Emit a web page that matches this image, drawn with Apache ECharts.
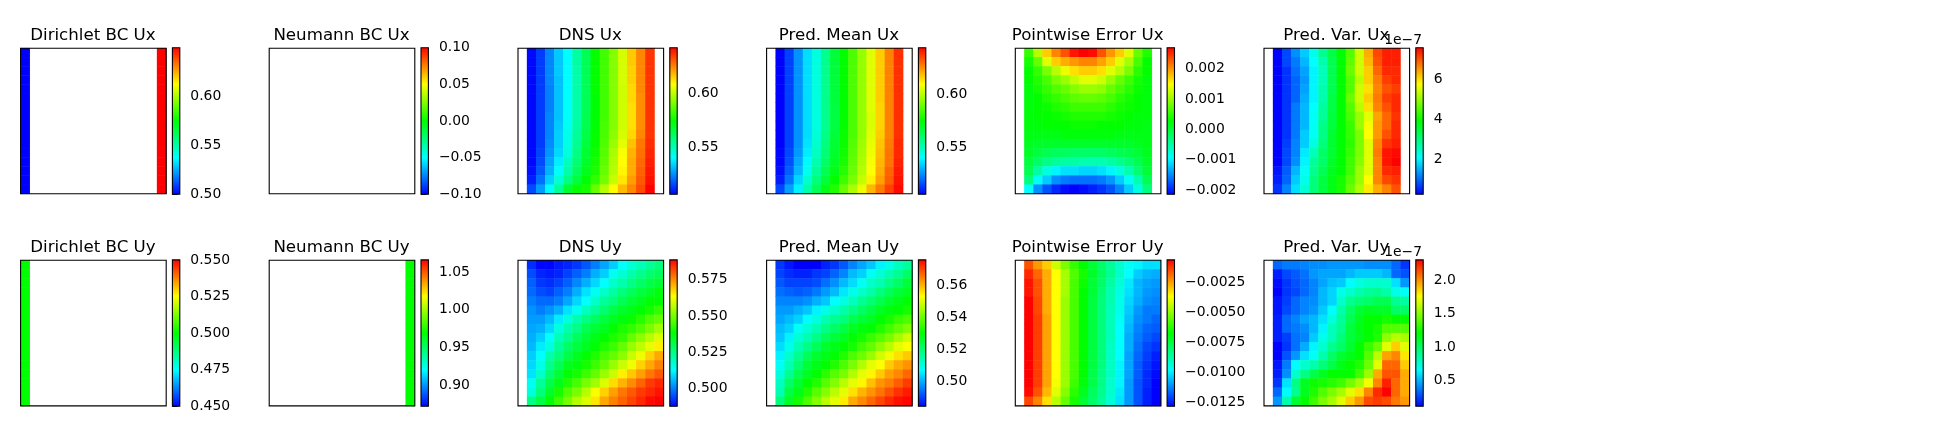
<!DOCTYPE html>
<html>
<head>
<meta charset="utf-8">
<style>html,body{margin:0;padding:0;background:#fff}#c{width:1936px;height:440px}</style>
<script src="https://cdn.jsdelivr.net/npm/echarts@6/dist/echarts.min.js"></script>
</head>
<body>
<div id="c"></div>
<script>
// ---- Boundary-condition columns (16 rows, top to bottom) ----
const dirichletUx_left  = [0.5,0.5,0.5,0.5,0.5,0.5,0.5,0.5,0.5,0.5,0.5,0.5,0.5,0.5,0.5,0.5];
const dirichletUx_right = [0.649,0.649,0.649,0.649,0.649,0.649,0.649,0.649,0.649,0.649,0.649,0.649,0.649,0.649,0.649,0.649];
const dirichletUy_left  = [0.5,0.5,0.5,0.5,0.5,0.5,0.5,0.5,0.5,0.5,0.5,0.5,0.5,0.5,0.5,0.5];
const neumannUy_right   = [0.969,0.969,0.969,0.969,0.969,0.969,0.969,0.969,0.969,0.969,0.969,0.969,0.969,0.969,0.969,0.969];

// ---- Ux fields: columns 1..14, rows top to bottom ----
const dnsUx = [
[.507,.514,.524,.533,.540,.553,.563,.575,.583,.592,.603,.616,.625,.636],
[.507,.514,.524,.533,.540,.553,.563,.575,.583,.592,.603,.616,.625,.636],
[.507,.514,.524,.533,.540,.552,.563,.575,.583,.592,.603,.615,.625,.636],
[.507,.514,.524,.532,.540,.552,.563,.575,.583,.592,.603,.615,.625,.636],
[.507,.514,.523,.532,.540,.552,.563,.575,.583,.592,.602,.614,.625,.636],
[.507,.514,.523,.532,.541,.552,.563,.574,.583,.592,.602,.614,.624,.636],
[.507,.514,.523,.532,.541,.552,.563,.574,.583,.592,.602,.613,.624,.636],
[.507,.514,.524,.532,.541,.552,.564,.574,.583,.592,.602,.613,.624,.636],
[.507,.514,.524,.533,.542,.553,.564,.574,.584,.592,.602,.613,.624,.636],
[.507,.514,.524,.534,.543,.554,.565,.575,.584,.593,.603,.614,.625,.636],
[.507,.514,.525,.534,.544,.555,.566,.575,.585,.595,.605,.617,.627,.637],
[.507,.515,.526,.535,.545,.557,.568,.576,.586,.597,.608,.619,.628,.638],
[.507,.516,.528,.538,.549,.559,.569,.577,.587,.598,.609,.620,.629,.639],
[.508,.518,.530,.541,.552,.562,.571,.578,.588,.599,.610,.620,.630,.640],
[.510,.521,.534,.546,.557,.566,.574,.581,.590,.601,.612,.622,.631,.641],
[.516,.527,.540,.554,.568,.575,.577,.588,.599,.609,.618,.625,.633,.643]];
const meanUx = [
[.506,.515,.526,.536,.545,.556,.567,.575,.585,.595,.605,.616,.626,.637],
[.506,.515,.526,.536,.545,.556,.567,.575,.585,.595,.605,.616,.626,.637],
[.506,.515,.526,.536,.545,.556,.567,.575,.585,.595,.605,.616,.626,.637],
[.506,.515,.526,.536,.545,.556,.567,.575,.585,.595,.605,.616,.626,.637],
[.506,.515,.526,.536,.545,.556,.567,.575,.585,.595,.605,.616,.626,.637],
[.506,.515,.526,.536,.545,.556,.567,.575,.585,.595,.605,.616,.626,.637],
[.506,.515,.526,.536,.545,.556,.566,.575,.585,.595,.605,.615,.626,.637],
[.506,.515,.526,.536,.545,.556,.566,.575,.585,.595,.604,.615,.626,.637],
[.506,.515,.526,.536,.545,.556,.566,.575,.585,.595,.604,.615,.626,.637],
[.506,.515,.526,.536,.546,.557,.567,.576,.585,.595,.605,.616,.626,.637],
[.506,.515,.526,.537,.547,.558,.568,.576,.586,.596,.606,.617,.627,.638],
[.507,.516,.527,.538,.549,.559,.569,.577,.587,.597,.607,.618,.628,.638],
[.507,.517,.529,.540,.551,.561,.570,.578,.588,.598,.608,.619,.628,.639],
[.508,.519,.531,.543,.554,.564,.572,.580,.589,.599,.609,.620,.630,.640],
[.510,.522,.535,.547,.558,.567,.575,.583,.591,.601,.611,.622,.631,.641],
[.516,.528,.539,.552,.563,.572,.579,.589,.598,.607,.619,.627,.635,.642]];
// Pointwise error Ux, in units of 1e-3
const errUx_1e3 = [
[.52,1.14,1.72,2.06,2.30,2.59,2.69,2.64,2.30,1.97,1.72,1.34,.76,.42],
[.37,.76,1.34,1.72,1.87,1.97,2.06,2.06,1.92,1.72,1.34,1.05,.61,.28],
[.28,.52,.85,1.14,1.39,1.63,1.72,1.72,1.63,1.34,1.14,.85,.47,.28],
[.28,.42,.61,.85,1.0,1.19,1.34,1.34,1.24,1.0,.76,.56,.37,.23],
[.23,.37,.52,.66,.76,.90,1.0,1.0,.95,.76,.61,.47,.32,.23],
[.23,.28,.42,.52,.61,.71,.76,.76,.71,.61,.47,.37,.28,.23],
[.23,.28,.32,.42,.47,.56,.56,.56,.56,.47,.37,.32,.28,.23],
[.23,.28,.28,.32,.37,.42,.42,.42,.42,.37,.32,.28,.23,.23],
[.23,.23,.28,.28,.28,.32,.32,.32,.28,.28,.28,.23,.23,.18],
[.18,.18,.18,.18,.23,.23,.23,.23,.23,.23,.18,.18,.18,.18],
[.13,.08,.08,.08,.08,.08,.08,.08,.08,.08,.08,.08,.13,.18],
[.08,-.02,-.11,-.16,-.16,-.21,-.21,-.21,-.21,-.16,-.11,-.06,.03,.13],
[-.02,-.21,-.35,-.45,-.50,-.50,-.55,-.55,-.55,-.50,-.40,-.26,-.11,.08],
[-.11,-.50,-.79,-.98,-1.08,-1.08,-1.13,-1.13,-1.08,-.98,-.79,-.55,-.26,.03],
[-.31,-.88,-1.17,-1.46,-1.56,-1.61,-1.61,-1.61,-1.56,-1.42,-1.17,-.88,-.55,-.11],
[-.93,-1.46,-1.75,-1.95,-2.09,-2.14,-2.09,-2.0,-1.9,-1.75,-1.51,-1.17,-.79,-.31]];
// Predictive variance Ux, in units of 1e-7
const varUx_1e7 = [
[.28,.80,1.31,1.75,2.26,2.92,3.43,3.94,4.53,5.41,6.36,7.09,7.38,7.38],
[.28,.80,1.16,1.60,2.11,2.70,3.36,3.94,4.60,5.41,6.29,7.02,7.38,7.38],
[.28,.65,1.09,1.45,2.04,2.63,3.36,3.94,4.68,5.41,6.14,6.87,7.31,7.31],
[.28,.65,1.01,1.38,2.04,2.63,3.36,3.94,4.53,5.26,6.14,6.72,7.16,7.31],
[.28,.65,1.01,1.45,2.04,2.70,3.36,3.94,4.53,5.41,5.99,6.65,7.02,7.16],
[.28,.65,1.01,1.53,2.04,2.70,3.43,3.94,4.68,5.41,6.14,6.72,7.16,7.31],
[.28,.65,1.16,1.60,2.11,2.85,3.43,3.94,4.53,5.26,5.99,6.65,7.02,7.31],
[.28,.65,1.16,1.60,2.19,2.85,3.50,3.94,4.46,5.04,5.55,6.43,6.87,7.24],
[.28,.65,1.16,1.60,2.19,2.99,3.50,3.94,4.31,5.04,5.70,6.50,6.87,7.31],
[.28,.65,1.16,1.75,2.19,2.99,3.58,3.94,4.31,4.82,5.77,6.50,7.02,7.31],
[.28,.72,1.23,1.75,2.33,3.06,3.58,3.94,4.24,4.82,5.55,6.65,7.24,7.38],
[.28,.80,1.23,1.97,2.63,3.21,3.58,3.94,4.31,4.82,5.55,6.72,7.46,7.53],
[.28,.80,1.31,2.04,2.85,3.21,3.65,3.94,4.38,4.89,5.55,6.65,7.46,7.60],
[.43,.94,1.60,2.19,2.92,3.36,3.72,3.94,4.38,5.04,5.55,6.65,7.31,7.38],
[.50,1.01,1.75,2.26,3.06,3.50,3.80,4.09,4.53,5.04,5.77,6.65,7.09,7.24],
[.65,1.23,1.89,2.41,3.06,3.50,3.80,4.09,4.68,5.19,5.92,6.36,6.65,7.02]];

// ---- Uy fields: columns 1..15, rows top to bottom ----
const dnsUy = [
[.492,.488,.488,.490,.491,.493,.496,.500,.504,.508,.513,.517,.520,.523,.526],
[.495,.491,.490,.491,.494,.497,.500,.505,.508,.514,.517,.521,.524,.527,.529],
[.497,.493,.492,.494,.497,.501,.505,.509,.513,.518,.521,.525,.528,.531,.533],
[.498,.495,.494,.497,.500,.505,.510,.514,.518,.522,.526,.529,.532,.534,.537],
[.500,.498,.498,.500,.504,.509,.513,.518,.523,.526,.530,.533,.535,.538,.538],
[.502,.500,.502,.505,.510,.514,.519,.523,.527,.531,.534,.536,.538,.540,.543],
[.503,.503,.506,.511,.516,.521,.525,.529,.532,.535,.537,.539,.542,.546,.548],
[.504,.505,.509,.516,.521,.525,.530,.533,.535,.538,.541,.543,.546,.550,.554],
[.505,.508,.513,.520,.524,.529,.533,.536,.538,.541,.543,.548,.552,.556,.560],
[.506,.511,.516,.523,.528,.532,.535,.538,.541,.544,.548,.553,.557,.561,.565],
[.508,.513,.521,.526,.531,.535,.538,.541,.545,.548,.552,.558,.562,.568,.572],
[.509,.515,.524,.530,.535,.537,.540,.544,.548,.553,.558,.562,.568,.572,.576],
[.510,.518,.527,.533,.538,.540,.544,.548,.553,.558,.565,.569,.573,.577,.580],
[.514,.523,.531,.536,.541,.545,.550,.554,.560,.567,.571,.575,.579,.583,.585],
[.516,.526,.534,.540,.546,.550,.556,.563,.568,.573,.577,.580,.583,.585,.587],
[.525,.531,.538,.544,.550,.556,.560,.566,.572,.576,.579,.582,.585,.588,.589]];
const meanUy = [
[.489,.486,.484,.484,.484,.487,.489,.492,.496,.499,.502,.506,.509,.513,.516],
[.490,.488,.487,.487,.489,.490,.493,.496,.501,.503,.508,.511,.514,.517,.521],
[.492,.490,.490,.490,.491,.494,.497,.501,.504,.508,.512,.514,.518,.521,.525],
[.494,.493,.492,.493,.495,.498,.501,.505,.509,.512,.515,.519,.522,.525,.527],
[.496,.496,.496,.497,.500,.502,.507,.510,.513,.517,.520,.523,.526,.528,.530],
[.498,.498,.500,.502,.506,.509,.512,.515,.518,.521,.524,.527,.529,.530,.532],
[.499,.501,.503,.507,.510,.514,.517,.519,.523,.525,.527,.530,.532,.535,.537],
[.501,.503,.508,.511,.514,.518,.521,.524,.527,.529,.530,.533,.536,.539,.542],
[.502,.506,.511,.514,.518,.522,.525,.527,.530,.532,.535,.538,.541,.545,.549],
[.504,.509,.514,.518,.522,.526,.528,.530,.532,.536,.539,.543,.547,.551,.553],
[.506,.512,.517,.522,.526,.528,.530,.533,.537,.540,.544,.549,.552,.556,.558],
[.508,.514,.520,.525,.528,.530,.533,.537,.541,.546,.551,.553,.558,.561,.563],
[.510,.517,.523,.527,.530,.534,.538,.541,.546,.551,.554,.558,.562,.564,.567],
[.513,.521,.526,.530,.533,.538,.542,.547,.551,.554,.559,.563,.565,.568,.571],
[.514,.524,.528,.533,.538,.542,.547,.551,.556,.560,.563,.566,.569,.572,.574],
[.519,.527,.532,.537,.542,.547,.551,.555,.561,.564,.567,.570,.573,.575,.576]];
// Pointwise error Uy, in units of 1e-3
const errUy_1e3 = [
[-1.62,-2.47,-3.08,-4.30,-5.27,-6.13,-6.74,-7.34,-7.95,-8.56,-9.17,-9.66,-9.90,-10.15,-10.15],
[-1.13,-1.86,-2.71,-3.69,-4.78,-5.76,-6.49,-7.22,-7.83,-8.44,-9.17,-9.78,-10.39,-10.64,-10.76],
[-.88,-1.62,-2.71,-3.69,-4.78,-5.88,-6.61,-7.34,-7.95,-8.69,-9.30,-10.03,-10.64,-10.88,-11.0],
[-.88,-1.62,-2.71,-3.69,-4.78,-5.88,-6.74,-7.34,-8.08,-8.81,-9.42,-10.15,-10.64,-11.0,-11.12],
[-.64,-1.49,-2.71,-3.69,-4.91,-5.88,-6.74,-7.47,-8.20,-8.81,-9.54,-10.27,-10.76,-11.12,-11.25],
[-.64,-1.49,-2.71,-3.69,-4.91,-5.88,-6.74,-7.47,-8.20,-8.93,-9.54,-10.39,-11.0,-11.37,-11.37],
[-.64,-1.37,-2.59,-3.69,-4.91,-5.88,-6.74,-7.47,-8.20,-8.93,-9.66,-10.51,-11.12,-11.37,-11.61],
[-.64,-1.37,-2.59,-3.69,-4.91,-5.88,-6.74,-7.47,-8.20,-8.93,-9.78,-10.64,-11.25,-11.61,-11.73],
[-.64,-1.37,-2.59,-3.69,-4.91,-5.88,-6.74,-7.47,-8.20,-8.93,-9.78,-10.76,-11.37,-11.73,-11.98],
[-.64,-1.37,-2.59,-3.69,-4.91,-5.88,-6.74,-7.47,-8.20,-9.05,-9.78,-10.76,-11.49,-11.98,-12.22],
[-.64,-1.37,-2.59,-3.69,-4.91,-5.88,-6.74,-7.47,-8.20,-9.05,-9.78,-10.88,-11.61,-12.10,-12.46],
[-.64,-1.37,-2.59,-3.69,-4.91,-5.88,-6.74,-7.47,-8.20,-9.05,-9.90,-10.88,-11.73,-12.22,-12.59],
[-.64,-1.37,-2.59,-3.69,-4.91,-5.88,-6.74,-7.59,-8.32,-9.05,-9.90,-10.88,-11.73,-12.34,-12.71],
[-.64,-1.37,-2.59,-3.81,-4.91,-6.0,-6.86,-7.59,-8.32,-9.17,-9.90,-11.0,-11.86,-12.34,-12.83],
[-.76,-1.62,-2.83,-4.05,-5.15,-6.25,-7.10,-7.83,-8.44,-9.17,-10.03,-11.0,-11.86,-12.46,-12.83],
[-1.49,-2.23,-3.32,-4.54,-5.52,-6.49,-7.34,-7.95,-8.56,-9.30,-10.15,-11.0,-11.86,-12.46,-12.83]];
// Predictive variance Uy, in units of 1e-7
const varUy_1e7 = [
[.34,.38,.38,.40,.42,.42,.44,.44,.44,.44,.42,.42,.42,.34,.23],
[.18,.27,.31,.36,.44,.47,.47,.47,.51,.55,.55,.55,.51,.34,.29],
[.14,.23,.29,.34,.40,.47,.53,.55,.66,.73,.77,.77,.77,.60,.44],
[.12,.23,.27,.34,.40,.51,.57,.71,.77,.84,.88,.90,.84,.71,.68],
[.16,.25,.34,.40,.42,.51,.57,.77,.90,.95,.99,1.03,1.03,.90,.86],
[.16,.27,.34,.40,.44,.55,.66,.84,.99,1.10,1.14,1.12,1.12,.99,.99],
[.18,.34,.40,.47,.51,.60,.73,.88,1.03,1.14,1.21,1.21,1.25,1.21,1.21],
[.18,.34,.38,.42,.51,.64,.81,.90,1.08,1.16,1.21,1.25,1.38,1.38,1.38],
[.18,.25,.36,.40,.55,.71,.81,.95,1.08,1.14,1.21,1.27,1.51,1.60,1.56],
[.12,.23,.36,.49,.64,.77,.90,.99,1.10,1.21,1.32,1.43,1.69,1.86,1.69],
[.12,.29,.44,.60,.68,.84,.99,1.10,1.16,1.21,1.38,1.60,1.95,2.01,1.80],
[.16,.38,.66,.77,.84,.95,1.05,1.16,1.21,1.27,1.43,1.69,2.08,2.08,1.86],
[.18,.42,.77,.92,1.05,1.14,1.21,1.21,1.21,1.34,1.53,1.93,2.12,2.12,1.93],
[.23,.60,.92,1.14,1.23,1.25,1.29,1.34,1.45,1.56,1.73,2.01,2.23,2.08,1.93],
[.34,.66,.90,1.14,1.27,1.38,1.47,1.56,1.69,1.82,2.01,2.21,2.30,2.08,1.93],
[.44,.84,1.10,1.21,1.34,1.47,1.56,1.69,1.86,1.97,2.14,2.17,2.14,2.04,1.97]];

// ---- Titles, colour ranges and tick labels ----
const titles = ['Dirichlet BC Ux','Neumann BC Ux','DNS Ux','Pred. Mean Ux','Pointwise Error Ux','Pred. Var. Ux',
                'Dirichlet BC Uy','Neumann BC Uy','DNS Uy','Pred. Mean Uy','Pointwise Error Uy','Pred. Var. Uy'];
const mins = [0.5,-0.1,0.506,0.5063,-2.14,0.283, 0.45,0.8717,0.4875,0.484,-12.83,0.117];
const maxs = [0.649,0.1,0.643,0.6434,2.69,7.6, 0.55,1.066,0.5888,0.5764,-0.64,2.298];
const tickValues = [
 [0.5,0.55,0.6],[-0.1,-0.05,0,0.05,0.1],[0.55,0.6],[0.55,0.6],[-2,-1,0,1,2],[2,4,6],
 [0.45,0.475,0.5,0.525,0.55],[0.9,0.95,1,1.05],[0.5,0.525,0.55,0.575],[0.5,0.52,0.54,0.56],
 [-12.5,-10,-7.5,-5,-2.5],[0.5,1,1.5,2]];
const tickLabels = [
 ['0.50','0.55','0.60'],['−0.10','−0.05','0.00','0.05','0.10'],['0.55','0.60'],['0.55','0.60'],
 ['−0.002','−0.001','0.000','0.001','0.002'],['2','4','6'],
 ['0.450','0.475','0.500','0.525','0.550'],['0.90','0.95','1.00','1.05'],['0.500','0.525','0.550','0.575'],
 ['0.50','0.52','0.54','0.56'],['−0.0125','−0.0100','−0.0075','−0.0050','−0.0025'],['0.5','1.0','1.5','2.0']];
const offsetText = '1e−7';
const jetStops = ['#0000ff','#00ffff','#00ff00','#ffff00','#ff0000'];
const cols = ['0','1','2','3','4','5','6','7','8','9','10','11','12','13','14','15'];
const FONT = '"DejaVu Sans"';

function fromColumn(col, values){ return values.map((v,r)=>[col,r,v]); }
function fromMatrix(rows){ const out=[]; rows.forEach((row,r)=>row.forEach((v,c)=>out.push([c+1,r,v]))); return out; }
const panelData = [
  fromColumn(0,dirichletUx_left).concat(fromColumn(15,dirichletUx_right)),
  [],
  fromMatrix(dnsUx), fromMatrix(meanUx), fromMatrix(errUx_1e3), fromMatrix(varUx_1e7),
  fromColumn(0,dirichletUy_left),
  fromColumn(15,neumannUy_right),
  fromMatrix(dnsUy), fromMatrix(meanUy), fromMatrix(errUy_1e3), fromMatrix(varUy_1e7)
];

// ---- Layout ----
const xs = [20.6,269.2,518,766.6,1015.3,1264];
const ys = [48.2,260.3];
const W = 145.6, H = 145.6, CB_DX = 151.8, CB_W = 7.4;

const grid=[],xAxis=[],yAxis=[],heat=[],frames=[],bars=[],visualMap=[],title=[];
titles.forEach((t,i)=>{
  const L=xs[i%6], T=ys[i<6?0:1];
  const g=grid.length;
  grid.push({left:L,top:T,width:W,height:H});
  xAxis.push({gridIndex:g,type:'category',data:cols,show:false});
  yAxis.push({gridIndex:g,type:'category',data:cols,inverse:true,show:false});
  heat.push({type:'heatmap',xAxisIndex:g,yAxisIndex:g,data:panelData[i],silent:true,progressive:0,animation:false});
  frames.push({type:'custom',xAxisIndex:g,yAxisIndex:g,z:6,silent:true,clip:false,animation:false,data:[[0,0]],
    renderItem:(p)=>({type:'rect',shape:{x:p.coordSys.x,y:p.coordSys.y,width:p.coordSys.width,height:p.coordSys.height},
      style:{fill:'none',stroke:'#000',lineWidth:1.1}})});
  visualMap.push({show:false,type:'continuous',seriesIndex:i,min:mins[i],max:maxs[i],inRange:{color:jetStops}});
  title.push({text:t,left:L+W/2-0.5,top:T-21.5,padding:0,textAlign:'center',
    textStyle:{fontFamily:FONT,fontSize:16.67,fontWeight:'normal',color:'#000'}});
  if(i%6===5) title.push({text:offsetText,left:L+158,top:T-14.5,padding:0,textAlign:'right',
    textStyle:{fontFamily:FONT,fontSize:13.9,fontWeight:'normal',color:'#000'}});
});
titles.forEach((t,i)=>{
  const L=xs[i%6]+CB_DX, T=ys[i<6?0:1]-0.4;
  const g=grid.length;
  const tv=tickValues[i], tl=tickLabels[i];
  grid.push({left:L,top:T,width:CB_W,height:H+0.8});
  xAxis.push({gridIndex:g,type:'value',min:0,max:1,show:false});
  yAxis.push({gridIndex:g,type:'value',position:'right',min:mins[i],max:maxs[i],splitLine:{show:false},
    axisLine:{show:false},
    axisTick:{show:true,length:4.9,customValues:tv,lineStyle:{color:'#000',width:1}},
    axisLabel:{show:true,margin:10.5,customValues:tv,hideOverlap:false,color:'#000',fontFamily:FONT,fontSize:13.9,
      formatter:(v)=>{let best=0;tv.forEach((x,k)=>{if(Math.abs(x-v)<Math.abs(tv[best]-v))best=k;});return tl[best];}}});
  bars.push({type:'custom',xAxisIndex:g,yAxisIndex:g,silent:true,clip:false,animation:false,data:[[0,mins[i]]],
    renderItem:(p)=>({type:'rect',shape:{x:p.coordSys.x,y:p.coordSys.y,width:p.coordSys.width,height:p.coordSys.height},
      style:{stroke:'#000',lineWidth:1.1,fill:new echarts.graphic.LinearGradient(0,1,0,0,
        jetStops.map((c,k)=>({offset:k/(jetStops.length-1),color:c})))}})});
});

const chart=echarts.init(document.getElementById('c'),null,{renderer:'canvas'});
chart.setOption({backgroundColor:'#fff',animation:false,tooltip:{show:false},title,grid,xAxis,yAxis,visualMap,
  series:heat.concat(frames,bars)});
</script>
</body>
</html>
